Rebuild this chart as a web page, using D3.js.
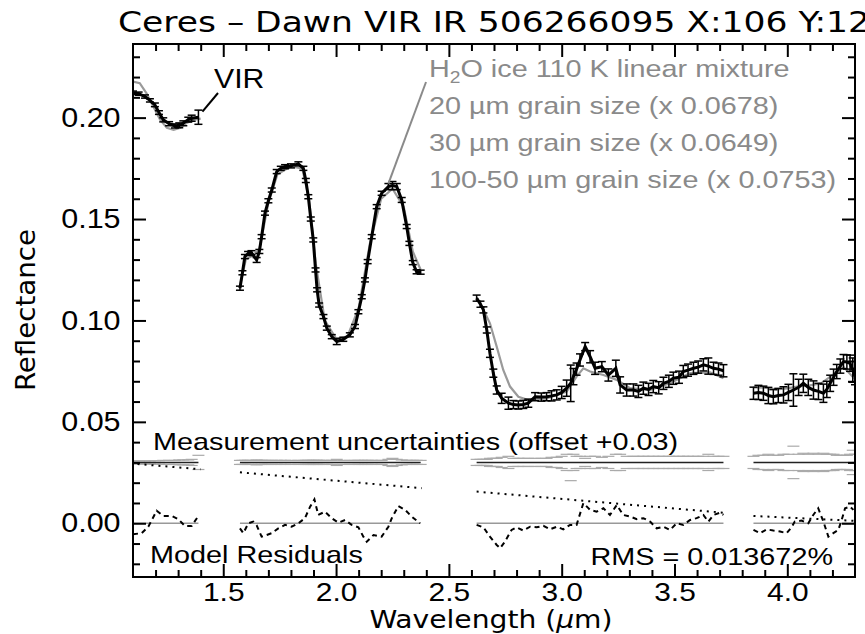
<!DOCTYPE html>
<html>
<head>
<meta charset="utf-8">
<script src="https://cdn.jsdelivr.net/npm/d3@7"></script>
<style>
  body { margin: 0; background: #fff; }
</style>
</head>
<body>
<div id="my_dataviz"></div>
<script>
// VIR spectrum segments: [wavelength µm, reflectance, 1-sigma uncertainty]
const vir1 = [
  [1.100, 0.2123, 0.0008], [1.125, 0.2118, 0.0008], [1.153, 0.2104, 0.0008], [1.175, 0.2085, 0.0008],
  [1.197, 0.2063, 0.0009], [1.215, 0.2025, 0.0009], [1.234, 0.1989, 0.0010], [1.260, 0.1970, 0.0010],
  [1.286, 0.1959, 0.0010], [1.305, 0.1962, 0.0012], [1.323, 0.1972, 0.0012], [1.345, 0.1990, 0.0012],
  [1.360, 0.1997, 0.0015], [1.390, 0.2002, 0.0035]
];
const vir2 = [
  [1.574, 0.1159, 0.0010], [1.585, 0.1235, 0.0010], [1.596, 0.1315, 0.0010], [1.610, 0.1330, 0.0010],
  [1.625, 0.1334, 0.0010], [1.648, 0.1298, 0.0012], [1.660, 0.1340, 0.0010], [1.670, 0.1413, 0.0010],
  [1.685, 0.1529, 0.0010], [1.700, 0.1590, 0.0010], [1.715, 0.1643, 0.0010], [1.737, 0.1734, 0.0010],
  [1.755, 0.1750, 0.0010], [1.774, 0.1758, 0.0010], [1.800, 0.1762, 0.0010], [1.833, 0.1772, 0.0010],
  [1.855, 0.1750, 0.0010], [1.866, 0.1690, 0.0010], [1.877, 0.1610, 0.0010], [1.888, 0.1500, 0.0010],
  [1.899, 0.1397, 0.0010], [1.909, 0.1249, 0.0010], [1.916, 0.1151, 0.0010], [1.925, 0.1076, 0.0010],
  [1.944, 0.1019, 0.0010], [1.959, 0.0962, 0.0010], [1.981, 0.0920, 0.0010], [2.003, 0.0896, 0.0015],
  [2.032, 0.0907, 0.0010], [2.061, 0.0929, 0.0010], [2.084, 0.0970, 0.0010], [2.099, 0.1043, 0.0010],
  [2.114, 0.1117, 0.0010], [2.128, 0.1200, 0.0010], [2.140, 0.1290, 0.0010], [2.158, 0.1413, 0.0010],
  [2.180, 0.1561, 0.0010], [2.202, 0.1627, 0.0010], [2.232, 0.1660, 0.0015], [2.250, 0.1665, 0.0020],
  [2.269, 0.1660, 0.0015], [2.291, 0.1594, 0.0012], [2.313, 0.1463, 0.0010], [2.325, 0.1380, 0.0010],
  [2.340, 0.1285, 0.0010], [2.357, 0.1240, 0.0010], [2.375, 0.1238, 0.0010]
];
const vir3 = [
  [2.623, 0.1110, 0.0015], [2.640, 0.1080, 0.0015], [2.653, 0.1052, 0.0015], [2.668, 0.0953, 0.0015],
  [2.682, 0.0838, 0.0020], [2.697, 0.0740, 0.0020], [2.712, 0.0657, 0.0020], [2.734, 0.0616, 0.0025],
  [2.764, 0.0592, 0.0030], [2.786, 0.0585, 0.0020], [2.808, 0.0583, 0.0020], [2.830, 0.0586, 0.0020],
  [2.852, 0.0592, 0.0020], [2.882, 0.0624, 0.0020], [2.910, 0.0622, 0.0020], [2.933, 0.0624, 0.0020],
  [2.955, 0.0628, 0.0025], [2.978, 0.0633, 0.0025], [3.000, 0.0645, 0.0030], [3.022, 0.0666, 0.0040],
  [3.040, 0.0690, 0.0090], [3.052, 0.0723, 0.0040], [3.066, 0.0760, 0.0030], [3.081, 0.0805, 0.0030],
  [3.104, 0.0871, 0.0020], [3.126, 0.0821, 0.0030], [3.148, 0.0764, 0.0030], [3.178, 0.0772, 0.0025],
  [3.207, 0.0731, 0.0030], [3.240, 0.0764, 0.0040], [3.259, 0.0682, 0.0040], [3.288, 0.0657, 0.0030],
  [3.318, 0.0657, 0.0030], [3.340, 0.0650, 0.0030], [3.362, 0.0666, 0.0030], [3.385, 0.0660, 0.0030],
  [3.406, 0.0674, 0.0030], [3.430, 0.0668, 0.0030], [3.451, 0.0690, 0.0030], [3.475, 0.0700, 0.0030],
  [3.495, 0.0715, 0.0030], [3.520, 0.0720, 0.0030], [3.539, 0.0748, 0.0030], [3.560, 0.0755, 0.0030],
  [3.584, 0.0764, 0.0030], [3.605, 0.0770, 0.0030], [3.628, 0.0781, 0.0030], [3.650, 0.0775, 0.0040],
  [3.673, 0.0764, 0.0030], [3.695, 0.0760, 0.0030], [3.717, 0.0752, 0.0030]
];
const vir4 = [
  [3.850, 0.0641, 0.0030], [3.872, 0.0645, 0.0035], [3.894, 0.0641, 0.0035], [3.916, 0.0630, 0.0040],
  [3.938, 0.0624, 0.0035], [3.960, 0.0630, 0.0035], [3.983, 0.0633, 0.0040], [4.005, 0.0645, 0.0040],
  [4.027, 0.0657, 0.0080], [4.050, 0.0670, 0.0040], [4.071, 0.0690, 0.0045], [4.093, 0.0670, 0.0040],
  [4.116, 0.0657, 0.0045], [4.138, 0.0650, 0.0040], [4.160, 0.0641, 0.0045], [4.175, 0.0660, 0.0040],
  [4.190, 0.0690, 0.0040], [4.205, 0.0720, 0.0040], [4.219, 0.0748, 0.0035], [4.235, 0.0775, 0.0035],
  [4.249, 0.0797, 0.0035], [4.264, 0.0795, 0.0035], [4.278, 0.0789, 0.0040], [4.290, 0.0755, 0.0060],
  [4.300, 0.0723, 0.0040]
];

// H2O ice linear mixture model (grey)
const model1 = [[1.10, 0.2178], [1.13, 0.2170], [1.16, 0.2120], [1.19, 0.2055], [1.22, 0.1990], [1.25, 0.1950],
  [1.28, 0.1940], [1.31, 0.1950], [1.34, 0.1975], [1.37, 0.1990], [1.40, 0.1995]];
const model2 = [[1.574, 0.1170], [1.60, 0.1300], [1.63, 0.1320], [1.66, 0.1350], [1.70, 0.1580], [1.74, 0.1720],
  [1.80, 0.1760], [1.85, 0.1750], [1.88, 0.1600], [1.91, 0.1280], [1.95, 0.1000], [2.00, 0.0910], [2.05, 0.0920],
  [2.10, 0.1060], [2.15, 0.1380], [2.20, 0.1600], [2.25, 0.1650], [2.30, 0.1560], [2.34, 0.1340], [2.375, 0.1250]];
const model3 = [[2.623, 0.1110], [2.650, 0.1060], [2.682, 0.0986], [2.712, 0.0871], [2.741, 0.0756], [2.771, 0.0674],
  [2.808, 0.0624], [2.852, 0.0608], [2.933, 0.0616], [3.022, 0.0649], [3.066, 0.0723], [3.096, 0.0764],
  [3.126, 0.0748], [3.185, 0.0731], [3.244, 0.0707], [3.303, 0.0666], [3.392, 0.0657], [3.480, 0.0690],
  [3.569, 0.0740], [3.658, 0.0744], [3.717, 0.0715]];
const model4 = [[3.85, 0.0670], [3.90, 0.0668], [3.95, 0.0660], [4.00, 0.0665], [4.05, 0.0675], [4.10, 0.0680],
  [4.15, 0.0690], [4.20, 0.0730], [4.25, 0.0770], [4.30, 0.0710]];

// model residuals (dashed)
const res1 = [[1.100, -0.0054], [1.138, -0.0049], [1.168, -0.0017], [1.205, 0.0062], [1.234, 0.0036], [1.271, 0.0036],
  [1.301, 0.0020], [1.330, -0.0013], [1.360, -0.0013], [1.393, 0.0041]];
const res2 = [[1.574, -0.0025], [1.589, -0.0049], [1.611, 0.0000], [1.633, 0.0008], [1.648, -0.0010], [1.670, -0.0066],
  [1.692, -0.0058], [1.715, -0.0049], [1.744, -0.0025], [1.774, -0.0008], [1.803, -0.0017], [1.833, 0.0000],
  [1.862, 0.0025], [1.885, 0.0082], [1.904, 0.0118], [1.921, 0.0041], [1.951, 0.0057], [1.981, 0.0025],
  [2.010, 0.0003], [2.040, 0.0016], [2.069, -0.0008], [2.099, -0.0020], [2.121, -0.0066], [2.136, -0.0091],
  [2.166, -0.0058], [2.202, -0.0066], [2.232, -0.0017], [2.247, 0.0025], [2.276, 0.0085], [2.306, 0.0066],
  [2.335, 0.0033], [2.372, 0.0000]];
const res3 = [[2.623, -0.0008], [2.653, -0.0020], [2.682, -0.0066], [2.712, -0.0107], [2.727, -0.0123], [2.748, -0.0091],
  [2.778, -0.0033], [2.800, -0.0020], [2.830, -0.0036], [2.860, -0.0017], [2.889, -0.0020], [2.919, -0.0013],
  [2.948, -0.0030], [2.978, -0.0017], [3.007, -0.0030], [3.037, -0.0008], [3.066, -0.0008], [3.096, 0.0099],
  [3.126, 0.0066], [3.155, 0.0057], [3.185, 0.0074], [3.214, 0.0041], [3.244, 0.0090], [3.273, 0.0041],
  [3.303, 0.0033], [3.333, 0.0020], [3.362, 0.0025], [3.392, 0.0008], [3.421, -0.0025], [3.451, -0.0017],
  [3.480, -0.0033], [3.510, 0.0000], [3.539, -0.0008], [3.569, 0.0016], [3.598, 0.0025], [3.628, 0.0041],
  [3.650, 0.0008], [3.673, 0.0041], [3.702, 0.0052], [3.717, 0.0041]];
const res4 = [[3.850, -0.0033], [3.879, -0.0049], [3.909, -0.0030], [3.938, -0.0036], [3.968, -0.0041], [3.997, -0.0049],
  [4.019, -0.0020], [4.033, 0.0008], [4.063, 0.0013], [4.093, 0.0000], [4.115, 0.0041], [4.137, 0.0074],
  [4.160, 0.0008], [4.182, -0.0066], [4.204, -0.0049], [4.226, -0.0033], [4.241, 0.0016], [4.256, 0.0074],
  [4.278, 0.0082], [4.293, 0.0066]];

// dotted trend lines under the uncertainty strip
const dotted1 = [[1.12, 0.0292], [1.40, 0.0266]];
const dotted2 = [[1.574, 0.0251], [2.38, 0.0173]];
const dotted3 = [[2.623, 0.0156], [3.717, 0.0052]];
const dotted4 = [[3.85, 0.0036], [4.30, 0.0012]];

const uncertOffset = 0.03;
const xMajor = [1.5, 2.0, 2.5, 3.0, 3.5, 4.0];
const xMinor = [1.2, 1.3, 1.4, 1.6, 1.7, 1.8, 1.9, 2.1, 2.2, 2.3, 2.4, 2.6, 2.7, 2.8, 2.9, 3.1, 3.2, 3.3, 3.4, 3.6, 3.7, 3.8, 3.9, 4.1, 4.2];
const yMajor = [0.00, 0.05, 0.10, 0.15, 0.20];
const yMinor = [-0.02, -0.01, 0.01, 0.02, 0.03, 0.04, 0.06, 0.07, 0.08, 0.09, 0.11, 0.12, 0.13, 0.14, 0.16, 0.17, 0.18, 0.19, 0.21, 0.22, 0.23];
const legendLines = ["20 µm grain size (x 0.0678)", "30 µm grain size (x 0.0649)", "100-50 µm grain size (x 0.0753)"];

const segments = [vir1, vir2, vir3, vir4];
const models = [model1, model2, model3, model4];
const residuals = [res1, res2, res3, res4];
const dotted = [dotted1, dotted2, dotted3, dotted4];

// set the dimensions and margins of the graph
const margin = { top: 44, right: 10, bottom: 57, left: 133 },
  width = 865 - margin.left - margin.right,
  height = 634 - margin.top - margin.bottom;

const svg = d3.select("#my_dataviz")
  .append("svg")
  .attr("width", 865)
  .attr("height", 634)
  .append("g")
  .attr("transform", `translate(${margin.left},${margin.top})`);

const x = d3.scaleLinear().domain([1.1, 4.3]).range([0, width]);
const y = d3.scaleLinear().domain([-0.0265, 0.2363]).range([height, 0]);

const sans = "'Liberation Sans', Arial, sans-serif";
const thin = "'DejaVu Sans Condensed', 'DejaVu Sans', sans-serif";
const stretch = 1.2;   // the source labels are drawn a bit wider than Arial

const line = d3.line().x(d => x(d[0])).y(d => y(d[1]));

svg.append("defs").append("clipPath").attr("id", "clip")
  .append("rect").attr("width", width).attr("height", height);
const plot = svg.append("g").attr("clip-path", "url(#clip)");

// zero lines for residuals
plot.selectAll(".zero").data(segments).join("line")
  .attr("x1", d => x(d[0][0])).attr("x2", d => x(d[d.length - 1][0]))
  .attr("y1", y(0)).attr("y2", y(0))
  .attr("stroke", "#999").attr("stroke-width", 1.5);

// uncertainty strip (offset +0.03)
segments.forEach(seg => {
  plot.selectAll(null).data(seg).join("line")
    .attr("x1", d => x(d[0]) - 6).attr("x2", d => x(d[0]) + 6)
    .attr("y1", d => y(uncertOffset + d[2])).attr("y2", d => y(uncertOffset + d[2]))
    .attr("stroke", "#aaa").attr("stroke-width", 1.2);
  plot.selectAll(null).data(seg).join("line")
    .attr("x1", d => x(d[0]) - 6).attr("x2", d => x(d[0]) + 6)
    .attr("y1", d => y(uncertOffset - d[2])).attr("y2", d => y(uncertOffset - d[2]))
    .attr("stroke", "#aaa").attr("stroke-width", 1.2);
  plot.append("line")
    .attr("x1", x(seg[0][0])).attr("x2", x(seg[seg.length - 1][0]))
    .attr("y1", y(uncertOffset)).attr("y2", y(uncertOffset))
    .attr("stroke", "#222").attr("stroke-width", 1.5);
});

// dotted lines
plot.selectAll(".dot").data(dotted).join("path")
  .attr("d", line).attr("fill", "none")
  .attr("stroke", "#000").attr("stroke-width", 2)
  .attr("stroke-dasharray", "2,5");

// residuals
plot.selectAll(".res").data(residuals).join("path")
  .attr("d", line).attr("fill", "none")
  .attr("stroke", "#000").attr("stroke-width", 2)
  .attr("stroke-dasharray", "5,4");

// models
plot.selectAll(".model").data(models).join("path")
  .attr("d", line).attr("fill", "none")
  .attr("stroke", "#9a9a9a").attr("stroke-width", 2.2);

// spectrum + error bars
segments.forEach(seg => {
  plot.append("path").datum(seg)
    .attr("d", line).attr("fill", "none")
    .attr("stroke", "#000").attr("stroke-width", 3);
  const eb = plot.selectAll(null).data(seg).join("g");
  eb.append("line")
    .attr("x1", d => x(d[0])).attr("x2", d => x(d[0]))
    .attr("y1", d => y(d[1] - d[2])).attr("y2", d => y(d[1] + d[2]))
    .attr("stroke", "#000").attr("stroke-width", 1.5);
  [-1, 1].forEach(s => {
    eb.append("line")
      .attr("x1", d => x(d[0]) - 4).attr("x2", d => x(d[0]) + 4)
      .attr("y1", d => y(d[1] + s * d[2])).attr("y2", d => y(d[1] + s * d[2]))
      .attr("stroke", "#000").attr("stroke-width", 1.5);
  });
});

// axes: inward ticks on all four sides
function styleAxis(sel) {
  sel.select(".domain").remove();
  sel.selectAll(".tick line").attr("stroke", "#000").attr("stroke-width", 2);
  sel.selectAll("text").attr("fill", "#000").style("font-family", sans).style("font-size", "27px");
}
svg.append("g").attr("transform", `translate(0,${height})`)
  .call(d3.axisBottom(x).tickValues(xMajor).tickSize(-13).tickPadding(6).tickFormat(d3.format(".1f"))).call(styleAxis)
  .selectAll("text").style("font-size", "26px").attr("transform", "scale(1.15,1)");
svg.append("g").attr("transform", `translate(0,${height})`)
  .call(d3.axisBottom(x).tickValues(xMinor).tickSize(-7).tickFormat("")).call(styleAxis);
svg.append("g")
  .call(d3.axisTop(x).tickValues(xMajor).tickSize(-13).tickFormat("")).call(styleAxis);
svg.append("g")
  .call(d3.axisTop(x).tickValues(xMinor).tickSize(-7).tickFormat("")).call(styleAxis);
svg.append("g")
  .call(d3.axisLeft(y).tickValues(yMajor).tickSize(-13).tickPadding(11).tickFormat(d3.format(".2f"))).call(styleAxis)
  .selectAll("text").attr("transform", "scale(1.13,1)");
svg.append("g")
  .call(d3.axisLeft(y).tickValues(yMinor).tickSize(-7).tickFormat("")).call(styleAxis);
svg.append("g").attr("transform", `translate(${width},0)`)
  .call(d3.axisRight(y).tickValues(yMajor).tickSize(-13).tickFormat("")).call(styleAxis);
svg.append("g").attr("transform", `translate(${width},0)`)
  .call(d3.axisRight(y).tickValues(yMinor).tickSize(-7).tickFormat("")).call(styleAxis);

svg.append("rect").attr("width", width).attr("height", height)
  .attr("fill", "none").attr("stroke", "#000").attr("stroke-width", 2);

// titles
svg.append("text").attr("x", width / 2).attr("y", -12)
  .attr("text-anchor", "middle").style("font-family", thin).style("font-size", "29px").style("font-weight", 200)
  .attr("textLength", 752).attr("lengthAdjust", "spacingAndGlyphs")
  .text("Ceres – Dawn VIR IR 506266095 X:106 Y:12");

svg.append("text").attr("transform", `translate(${35 - margin.left},${266}) rotate(-90)`)
  .attr("text-anchor", "middle").style("font-family", thin).style("font-size", "26px").style("font-weight", 200)
  .attr("textLength", 162).attr("lengthAdjust", "spacingAndGlyphs")
  .text("Reflectance");

const xt = svg.append("text").attr("x", 358).attr("y", height + 51)
  .attr("text-anchor", "middle").style("font-family", thin).style("font-size", "24px").style("font-weight", 200)
  .attr("textLength", 243).attr("lengthAdjust", "spacingAndGlyphs");
xt.append("tspan").text("Wavelength (");
xt.append("tspan").style("font-style", "italic").text("µ");
xt.append("tspan").text("m)");

// legend / annotations
function label(px, py, sx) {
  return svg.append("text").attr("transform", `translate(${px},${py}) scale(${sx},1)`)
    .style("font-family", sans);
}
const l0 = label(296, 33, stretch).style("font-size", "24px").attr("fill", "#8a8a8a");
l0.append("tspan").text("H");
l0.append("tspan").attr("dy", 6).style("font-size", "16px").text("2");
l0.append("tspan").attr("dy", -6).text("O ice 110 K linear mixture");
legendLines.forEach((t, i) => {
  label(296, 70 + i * 37, stretch).style("font-size", "24px").attr("fill", "#8a8a8a").text(t);
});

svg.append("line")
  .attr("x1", 293).attr("y1", 38).attr("x2", x(2.232)).attr("y2", y(0.1675))
  .attr("stroke", "#8a8a8a").attr("stroke-width", 2);

label(81, 44, 1.08).style("font-size", "28px").text("VIR");
svg.append("line")
  .attr("x1", 85).attr("y1", 49).attr("x2", x(1.39) + 4).attr("y2", y(0.2030))
  .attr("stroke", "#000").attr("stroke-width", 2);

label(20, 406, stretch).style("font-size", "24px").text("Measurement uncertainties (offset +0.03)");
label(17, 519, stretch).style("font-size", "24px").text("Model Residuals");
label(700, 521, stretch).style("font-size", "24px").attr("text-anchor", "end").text("RMS = 0.013672%");
</script>
</body>
</html>
